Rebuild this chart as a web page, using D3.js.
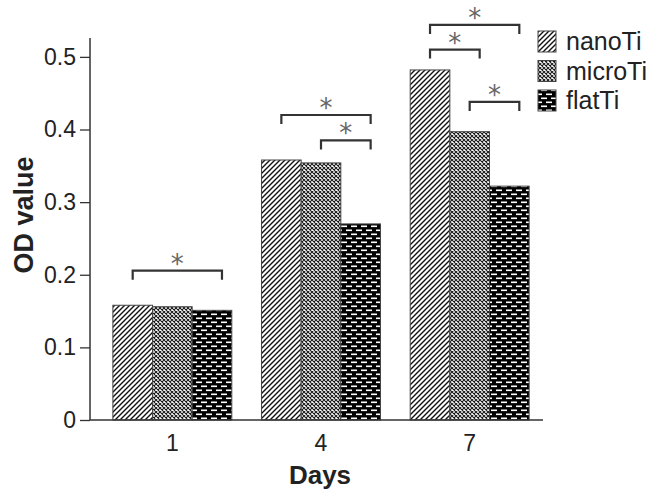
<!DOCTYPE html>
<html>
<head>
<meta charset="utf-8">
<script src="https://cdn.jsdelivr.net/npm/d3@7/dist/d3.min.js"></script>
<style>
  html, body { margin: 0; padding: 0; background: #fff; }
  svg { display: block; font-family: Arial, "Liberation Sans", Helvetica, sans-serif; }
</style>
</head>
<body>
<svg id="chart" width="666" height="504"></svg>
<script>
const days = ["1", "4", "7"];
const seriesNames = ["nanoTi", "microTi", "flatTi"];
const nanoTi = [0.158, 0.358, 0.482];
const microTi = [0.156, 0.354, 0.397];
const flatTi = [0.151, 0.270, 0.322];
const yTicks = [0, 0.1, 0.2, 0.3, 0.4, 0.5];
// significance brackets: day index, from series, to series, level (OD units)
const bracketDay = [0, 1, 1, 2, 2, 2];
const bracketFrom = [0, 0, 1, 0, 0, 1];
const bracketTo = [2, 2, 2, 2, 1, 2];
const bracketLevel = [0.2056, 0.42, 0.385, 0.544, 0.51, 0.438];

const values = [nanoTi, microTi, flatTi];
const svg = d3.select("#chart");
const FONT = "Arial, 'Liberation Sans', sans-serif";

const defs = svg.append("defs");
// nanoTi: diagonal hatch
const p1 = defs.append("pattern").attr("id", "pNano").attr("patternUnits", "userSpaceOnUse")
  .attr("width", 5).attr("height", 5);
p1.append("rect").attr("width", 5).attr("height", 5).attr("fill", "#fff");
p1.append("path").attr("d", "M-1,6 L6,-1 M-1,1 L1,-1 M4,6 L6,4").attr("stroke", "#111").attr("stroke-width", 1.4);
// microTi: fine cross-hatch
const p2 = defs.append("pattern").attr("id", "pMicro").attr("patternUnits", "userSpaceOnUse")
  .attr("width", 4).attr("height", 4);
p2.append("rect").attr("width", 4).attr("height", 4).attr("fill", "#fff");
p2.append("path").attr("d", "M0,0 L4,4 M4,0 L0,4").attr("stroke", "#1a1a1a").attr("stroke-width", 1.1);
// flatTi: black with white dashes (brick)
const p3 = defs.append("pattern").attr("id", "pFlat").attr("patternUnits", "userSpaceOnUse")
  .attr("width", 10).attr("height", 8);
p3.append("rect").attr("width", 10).attr("height", 8).attr("fill", "#000");
p3.append("rect").attr("x", 1).attr("y", 1.5).attr("width", 6).attr("height", 1.6).attr("fill", "#fff");
p3.append("rect").attr("x", 6).attr("y", 5.5).attr("width", 6).attr("height", 1.6).attr("fill", "#fff");
p3.append("rect").attr("x", -4).attr("y", 5.5).attr("width", 6).attr("height", 1.6).attr("fill", "#fff");
const fills = ["url(#pNano)", "url(#pMicro)", "url(#pFlat)"];

const x0 = d3.scaleBand().domain(days).range([98, 544]).paddingInner(0.2).paddingOuter(0.1);
const x1 = d3.scaleBand().domain(d3.range(seriesNames.length)).range([0, x0.bandwidth()]);
const y = d3.scaleLinear().domain([0, 0.526]).range([420, 38]);

// bars
days.forEach((d, di) => {
  seriesNames.forEach((s, si) => {
    svg.append("rect")
      .attr("x", x0(d) + x1(si))
      .attr("y", y(values[si][di]))
      .attr("width", x1.bandwidth())
      .attr("height", y(0) - y(values[si][di]))
      .attr("fill", fills[si])
      .attr("stroke", "#444")
      .attr("stroke-width", 1);
  });
});

// y axis
const yAxis = d3.axisLeft(y).tickValues(yTicks).tickSize(10).tickPadding(4)
  .tickFormat(d => d === 0 ? "0" : d3.format(".1f")(d));
const gy = svg.append("g").attr("transform", "translate(90,0)").call(yAxis);
gy.select(".domain").remove();
gy.selectAll(".tick line").attr("stroke", "#333").attr("stroke-width", 1.3);
gy.selectAll(".tick text").attr("font-size", 23).attr("fill", "#222").attr("font-family", FONT);
svg.append("line").attr("x1", 90).attr("x2", 90).attr("y1", y.range()[1]).attr("y2", y(0))
  .attr("stroke", "#333").attr("stroke-width", 1.5);

// x axis
const xAxis = d3.axisBottom(x0).tickSize(0).tickPadding(15);
const gx = svg.append("g").attr("transform", `translate(0,${y(0)})`).call(xAxis);
gx.select(".domain").remove();
gx.selectAll(".tick text").attr("font-size", 23).attr("fill", "#222").attr("font-family", FONT);
svg.append("line").attr("x1", 90).attr("x2", 543).attr("y1", y(0)).attr("y2", y(0))
  .attr("stroke", "#333").attr("stroke-width", 1.5);

// axis titles
svg.append("text").attr("x", 320).attr("y", 484).attr("text-anchor", "middle")
  .attr("font-size", 26).attr("font-weight", "bold").attr("fill", "#222").text("Days");
svg.append("text").attr("transform", "translate(33,215) rotate(-90)").attr("text-anchor", "middle")
  .attr("font-size", 27).attr("font-weight", "bold").attr("fill", "#222").text("OD value");

// brackets
bracketDay.forEach((di, i) => {
  const d = days[di];
  const xa = x0(d) + x1(bracketFrom[i]) + x1.bandwidth() / 2;
  const xb = x0(d) + x1(bracketTo[i]) + x1.bandwidth() / 2 + 10;
  const yl = y(bracketLevel[i]);
  svg.append("path")
    .attr("d", `M${xa},${yl + 9} L${xa},${yl} L${xb},${yl} L${xb},${yl + 9}`)
    .attr("fill", "none").attr("stroke", "#333").attr("stroke-width", 2.2);
  svg.append("text").attr("x", (xa + xb) / 2).attr("y", yl + 2).attr("text-anchor", "middle")
    .attr("font-size", 26).attr("font-family", "'DejaVu Sans', sans-serif").attr("fill", "#666").text("*");
});

// legend
seriesNames.forEach((s, si) => {
  const ly = 31 + si * 29.5;
  svg.append("rect").attr("x", 538).attr("y", ly).attr("width", 18).attr("height", 21)
    .attr("fill", fills[si]).attr("stroke", "#444").attr("stroke-width", 1);
  svg.append("text").attr("x", 566).attr("y", ly + 19).attr("font-size", 25).attr("fill", "#222")
    .attr("font-family", FONT).text(s);
});
</script>
</body>
</html>
